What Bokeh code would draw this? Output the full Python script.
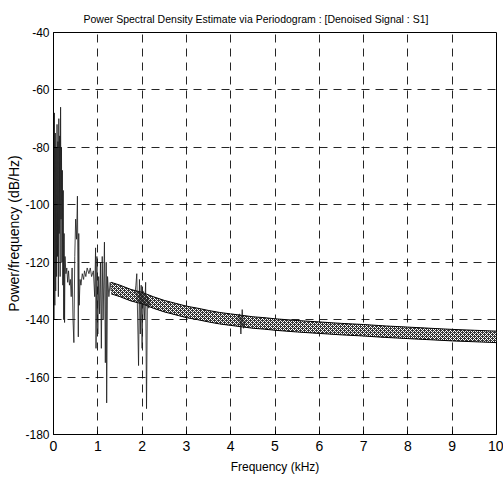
from bokeh.plotting import figure
from bokeh.models import Range1d, FixedTicker, PrintfTickFormatter
from bokeh.embed import file_html
from bokeh.resources import INLINE

# --- data ---
# noisy low-frequency part of the periodogram (kHz, dB/Hz)
spike_freq = [0.00, 0.01, 0.02, 0.03, 0.04, 0.05, 0.06, 0.07, 0.08, 0.09,
              0.10, 0.11, 0.12, 0.13, 0.14, 0.15, 0.16, 0.17, 0.18, 0.19,
              0.20, 0.21, 0.22, 0.23, 0.24, 0.25, 0.26, 0.28, 0.30, 0.32,
              0.34, 0.36, 0.38, 0.40, 0.42, 0.44, 0.46, 0.48, 0.50, 0.52,
              0.54, 0.55, 0.56, 0.57, 0.58, 0.60, 0.62, 0.65, 0.68, 0.70,
              0.73, 0.76, 0.80, 0.83, 0.86, 0.90, 0.93, 0.95, 0.96, 0.98,
              1.00, 1.02, 1.04, 1.06, 1.08, 1.10, 1.12, 1.15, 1.17, 1.19,
              1.20, 1.22, 1.25, 1.28, 1.30]
spike_db = [-72, -140, -68, -135, -75, -130, -80, -125, -72, -118,
            -78, -132, -70, -110, -76, -125, -66, -105, -80, -120,
            -88, -128, -95, -140, -110, -141, -118, -124, -122, -127,
            -123, -128, -126, -132, -122, -140, -148, -118, -105, -112,
            -97, -120, -146, -110, -135, -126, -128, -124, -126, -123,
            -125, -122, -124, -122, -125, -123, -132, -115, -150, -118,
            -145, -125, -138, -120, -150, -118, -140, -113, -155, -120,
            -169, -125, -132, -127, -130]

# spikes around 2 kHz
spike2_freq = [1.84, 1.86, 1.88, 1.90, 1.92, 1.94, 1.96, 1.98, 2.00, 2.02,
               2.05, 2.08, 2.10, 2.12, 2.15, 2.18]
spike2_db = [-131, -128, -124, -140, -156, -126, -145, -128, -150, -130,
             -140, -127, -171, -132, -136, -133]

# small feature around 4.25 kHz
spike3_freq = [4.15, 4.20, 4.23, 4.26, 4.29, 4.33]
spike3_db = [-140, -138, -145, -136.5, -143, -140.5]

# upper / lower edges of the noise band of the smooth part
band_freq = [1.30, 1.50, 1.75, 2.00, 2.25, 2.50, 2.75, 3.00, 3.25, 3.50,
             3.75, 4.00, 4.25, 4.50, 4.75, 5.00, 5.50, 6.00, 6.50, 7.00,
             7.50, 8.00, 8.50, 9.00, 9.50, 10.00]
band_high = [-127.0, -128.0, -129.5, -130.5, -132.0, -133.3, -134.3, -135.3, -136.0, -136.8,
             -137.5, -138.0, -138.5, -139.0, -139.3, -139.7, -140.3, -140.8, -141.3, -141.7,
             -142.2, -142.6, -143.0, -143.4, -143.7, -144.0]
band_low = [-131.0, -132.0, -133.5, -134.5, -136.0, -137.3, -138.3, -139.3, -140.0, -140.8,
            -141.5, -142.0, -142.5, -143.0, -143.3, -143.7, -144.3, -144.8, -145.3, -145.7,
            -146.2, -146.6, -147.0, -147.4, -147.7, -148.0]

x_ticks = [0, 1, 2, 3, 4, 5, 6, 7, 8, 9, 10]
y_ticks = [-180, -160, -140, -120, -100, -80, -60, -40]

FONT = "Liberation Sans"

p = figure(width=503, height=477, output_backend="svg", toolbar_location=None,
           x_range=Range1d(0, 10), y_range=Range1d(-180, -40),
           min_border_left=53, min_border_right=7, min_border_top=32, min_border_bottom=43,
           title="Power Spectral Density Estimate via Periodogram : [Denoised Signal : S1]")

p.title.text_font = FONT
p.title.text_font_size = "10.5px"
p.title.text_font_style = "normal"
p.title.text_color = "black"
p.title.align = "left"
p.title.offset = 30
p.title.standoff = 16

p.background_fill_color = "white"
p.border_fill_color = "white"
p.outline_line_color = "black"
p.outline_line_width = 1

for ax in (p.xaxis, p.yaxis):
    ax.major_tick_in = 4
    ax.major_tick_out = 0
    ax.minor_tick_in = 0
    ax.minor_tick_out = 0
    ax.axis_line_color = "black"
    ax.major_tick_line_color = "black"
    ax.major_label_text_font = FONT
    ax.major_label_text_color = "black"
    ax.axis_label_text_font = FONT
    ax.axis_label_text_font_style = "normal"
    ax.axis_label_text_color = "black"
    ax.formatter = PrintfTickFormatter(format="%d")

p.xaxis.ticker = FixedTicker(ticks=x_ticks)
p.yaxis.ticker = FixedTicker(ticks=y_ticks)
p.xaxis.major_label_text_font_size = "14px"
p.yaxis.major_label_text_font_size = "12px"
p.xaxis.axis_label = "Frequency (kHz)"
p.xaxis.axis_label_text_font_size = "12px"
p.xaxis.axis_label_standoff = 6
p.xaxis.major_label_standoff = 6
p.yaxis.axis_label = "Power/frequency (dB/Hz)"
p.yaxis.axis_label_text_font_size = "14px"
p.yaxis.axis_label_standoff = 0
p.yaxis.major_label_standoff = 4

for g in (p.xgrid, p.ygrid):
    g.grid_line_color = "black"
    g.grid_line_dash = "8 6"
    g.grid_line_width = 1
    g.grid_line_alpha = 0.85

# noise band
p.varea(x=band_freq, y1=band_low, y2=band_high, fill_color="#2a2a2a", fill_alpha=0.95,
        hatch_pattern="diagonal_cross", hatch_color="white", hatch_scale=4, hatch_weight=1)
p.line(band_freq, band_high, line_color="black", line_width=1)
p.line(band_freq, band_low, line_color="black", line_width=1)

# spikes
p.line(spike_freq, spike_db, line_color="#1a1a1a", line_width=0.8)
p.line(spike2_freq, spike2_db, line_color="#1a1a1a", line_width=0.8)
p.line(spike3_freq, spike3_db, line_color="#1a1a1a", line_width=0.8)

open("out.html", "w").write(file_html(p, INLINE))
